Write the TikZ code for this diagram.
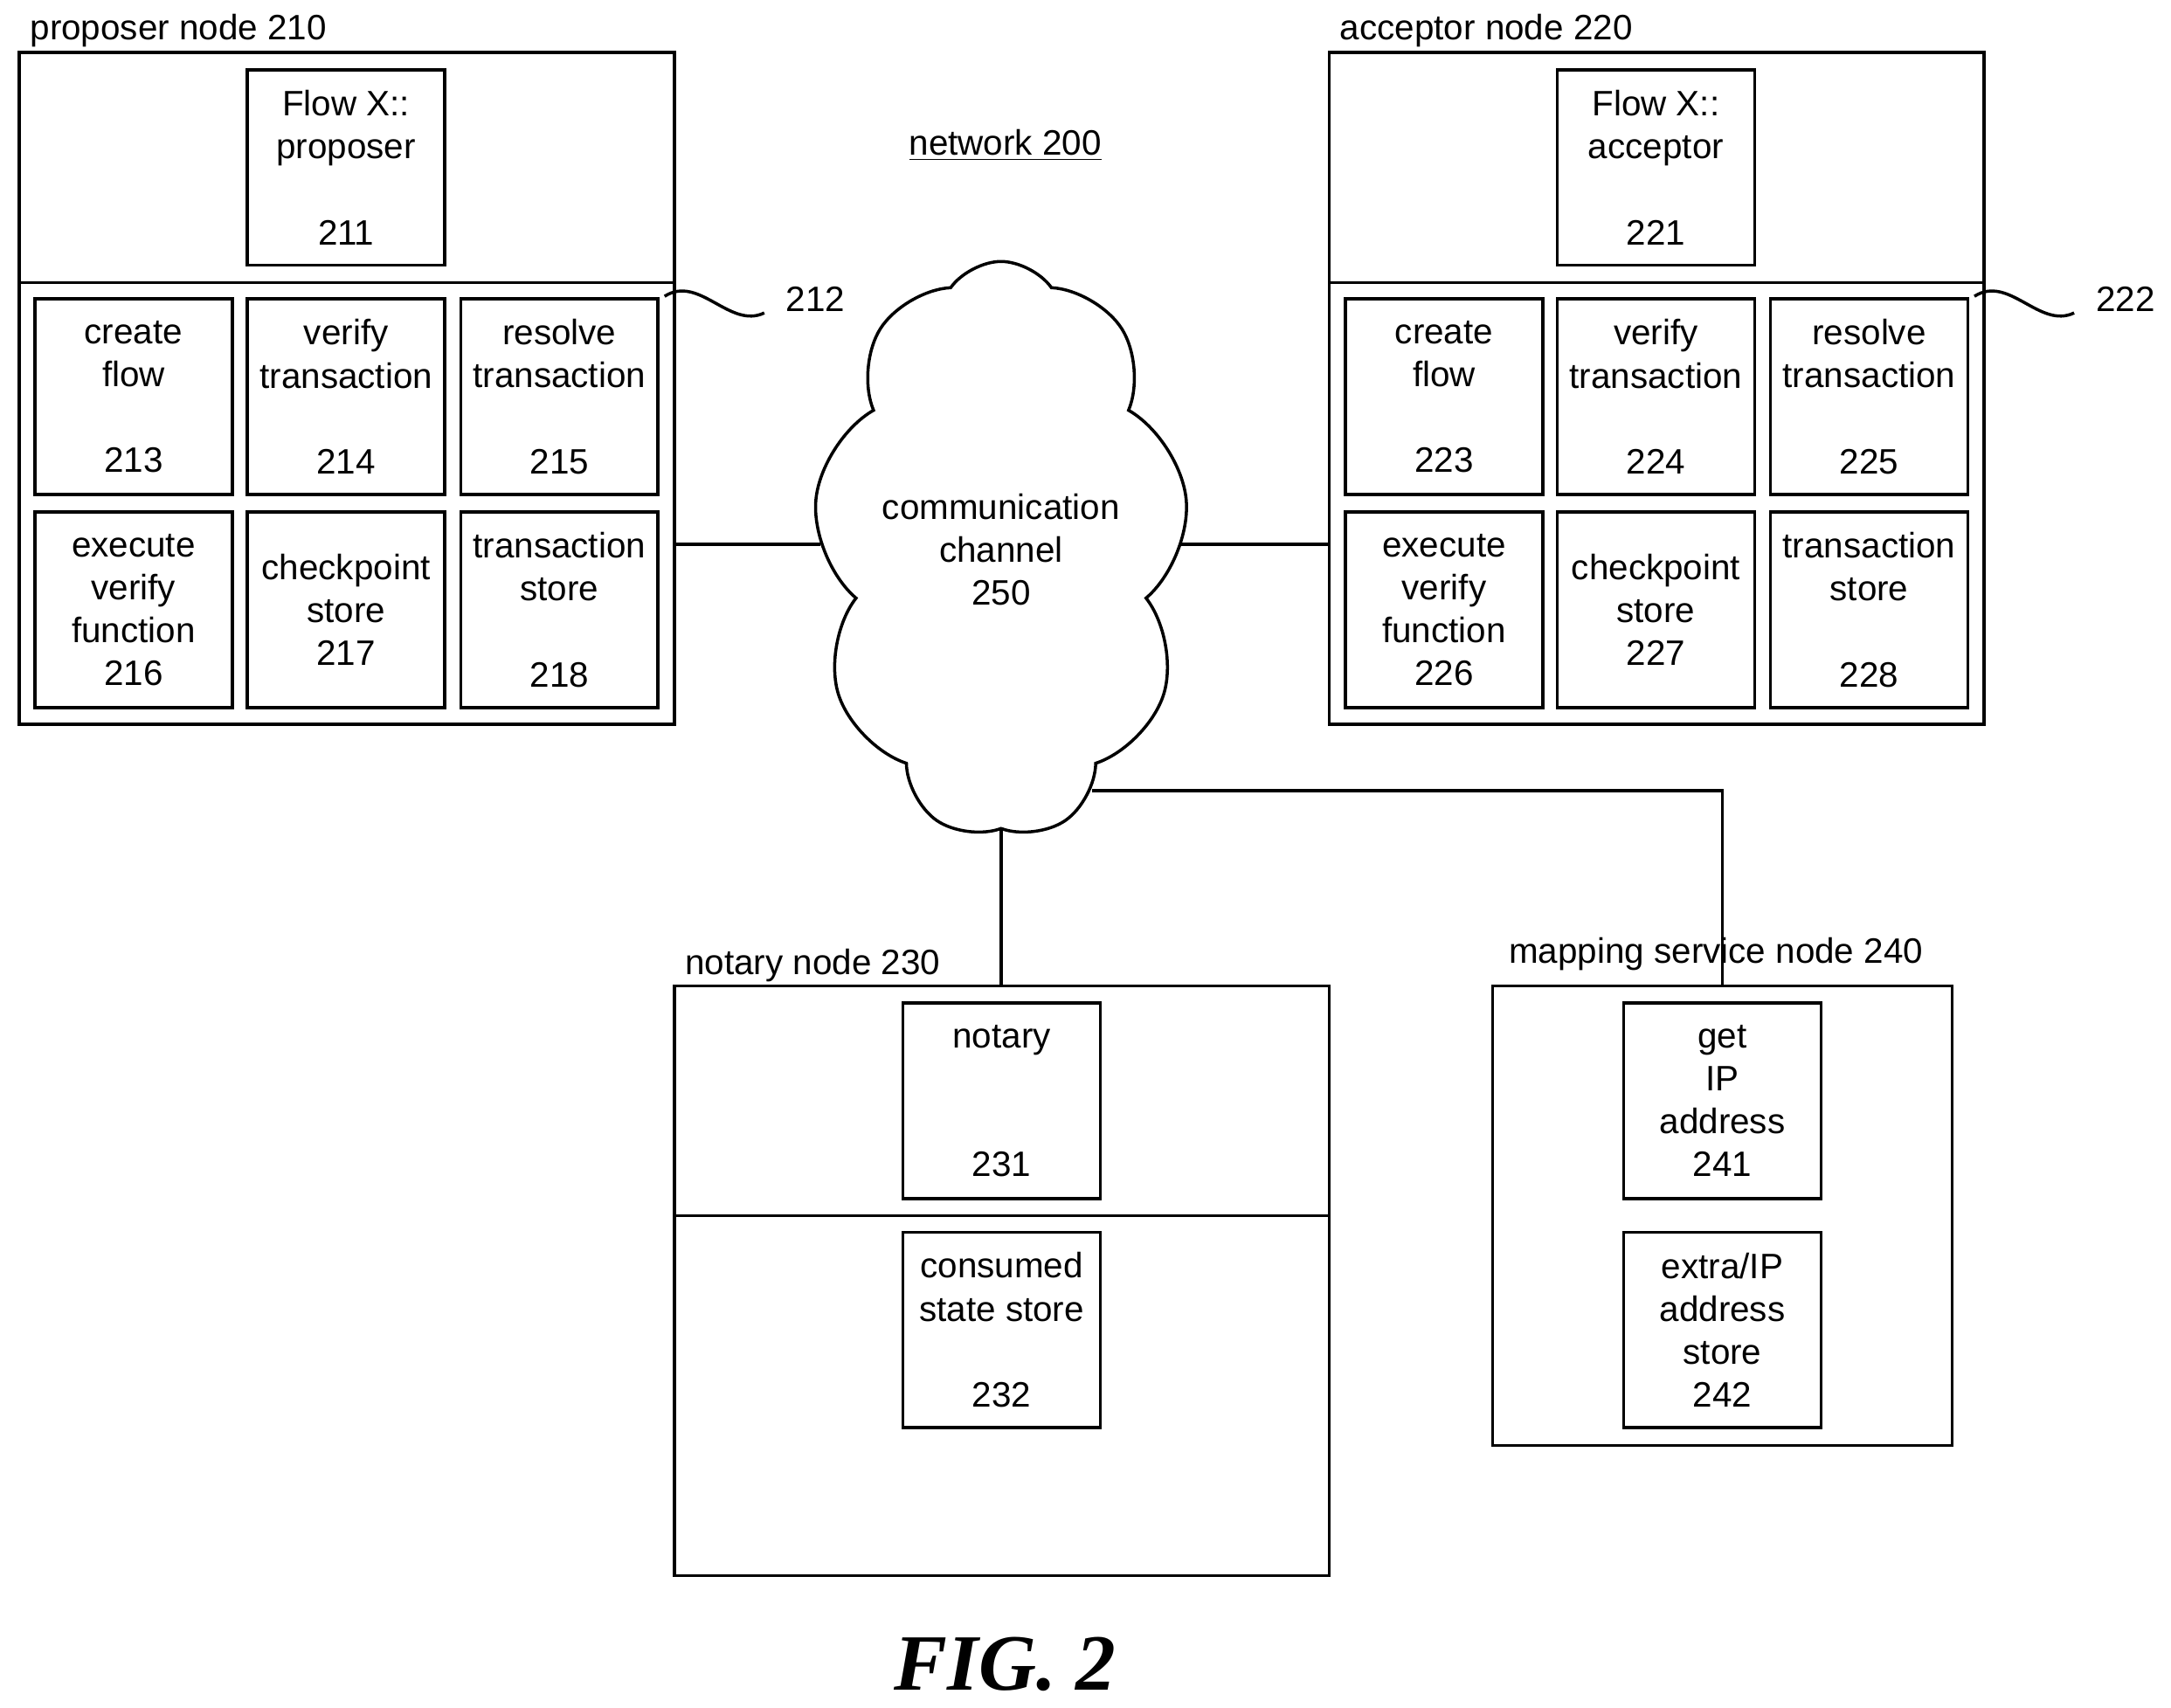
\documentclass[tikz,border=0pt]{standalone}
\usepackage{fontspec}
\setmainfont{Liberation Sans}
\newfontfamily\figfont{Liberation Serif}
\usetikzlibrary{shapes.symbols,fit}

\begin{document}
\begin{tikzpicture}[
  x=0.015848cm, y=-0.015848cm,
  every node/.style={font=\fontsize{11.5}{14}\selectfont},
  box/.style={rectangle, draw, line width=1pt, minimum width=2.26cm, minimum height=2.24cm, align=center, inner sep=1pt},
  frame/.style={rectangle, draw, line width=1pt, inner sep=0pt},
  link/.style={line width=1pt}
]
\useasboundingbox (0,0) rectangle (1568,1233);

% proposer node
\node[frame, fit={(14,38)(487,523)}] (prop) {};
\node[anchor=west] (proplbl) at (14,22) {proposer node 210};
\draw[link] (14,204) -- (487,204);
\node[box] (p211) at (250,121) {Flow X::\\proposer\\ \\211};
\node[box] (p213) at (96.5,286.5) {create\\flow\\ \\213};
\node[box] (p214) at (250,286.5) {verify\\transaction\\ \\214};
\node[box] (p215) at (404,286.5) {resolve\\transaction\\ \\215};
\node[box] (p216) at (96.5,440.5) {execute\\verify\\function\\216};
\node[box] (p217) at (250,440.5) {checkpoint\\store\\217};
\node[box] (p218) at (404,440.5) {transaction\\store\\ \\218};
\draw[link] (480,214) .. controls (505,198) and (527,238) .. (552,226);
\node[anchor=west] (n212) at (560,216) {212};

% acceptor node
\node[frame, fit={(960,38)(1433,523)}] (acc) {};
\node[anchor=west] (acclbl) at (960,22) {acceptor node 220};
\draw[link] (960,204) -- (1433,204);
\node[box] (a221) at (1196,121) {Flow X::\\acceptor\\ \\221};
\node[box] (a223) at (1043,286.5) {create\\flow\\ \\223};
\node[box] (a224) at (1196,286.5) {verify\\transaction\\ \\224};
\node[box] (a225) at (1350,286.5) {resolve\\transaction\\ \\225};
\node[box] (a226) at (1043,440.5) {execute\\verify\\function\\226};
\node[box] (a227) at (1196,440.5) {checkpoint\\store\\227};
\node[box] (a228) at (1350,440.5) {transaction\\store\\ \\228};
\draw[link] (1426,214) .. controls (1451,198) and (1473,238) .. (1498,226);
\node[anchor=west] (n222) at (1506,216) {222};

\node (net) at (726,105) {\underline{network 200}};

% communication channel
\node[cloud, draw, line width=1pt, cloud puffs=9, cloud puff arc=110, cloud ignores aspect, minimum width=4.1cm, minimum height=6.6cm, align=center] (cloud) at (723,397) {communication\\channel\\250};

% notary node
\node[frame, fit={(487,712)(960,1138)}] (notary) {};
\node[anchor=west] (notlbl) at (487,697) {notary node 230};
\draw[link] (487,878) -- (960,878);
\node[box] (n231) at (723.5,795) {notary\\ \\ \\231};
\node[box] (n232) at (723.5,960.5) {consumed\\state store\\ \\232};

% mapping service node
\node[frame, fit={(1078,712)(1410,1044)}] (map) {};
\node[anchor=west] (maplbl) at (1082,689) {mapping service node 240};
\node[box] (m241) at (1244,795) {get\\IP\\address\\241};
\node[box] (m242) at (1244,960.5) {extra/IP\\address\\store\\242};

% links
\coordinate (tap) at (789,571);
\draw[link] (prop.east |- 0,393) -- (cloud.west |- 0,393);
\draw[link] (cloud.east |- 0,393) -- (acc.west |- 0,393);
\draw[link] (cloud.south) -- (notary.north -| cloud.south);
\draw[link] (tap) -- (tap -| map.north) -- (map.north);

\node (fig) at (726,1202) {\figfont\fontsize{26}{30}\selectfont\bfseries\itshape FIG. 2};
\end{tikzpicture}
\end{document}
